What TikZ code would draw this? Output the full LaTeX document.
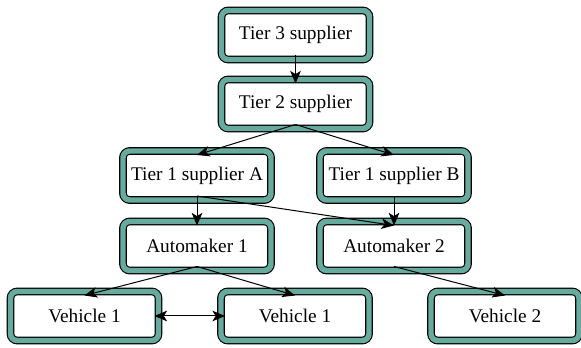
\documentclass[tikz,border=0pt]{standalone}
\usepackage{fontspec}
\setmainfont{Liberation Serif}
\usetikzlibrary{arrows.meta}
\definecolor{tealband}{HTML}{67AB9F}
\begin{document}
\begin{tikzpicture}[x=0.75pt,y=-0.75pt]
\tikzstyle{unit}=[draw=black, line width=0.85pt, double=tealband, double distance=4.1pt,
  fill=white, rounded corners=5pt, minimum width=111pt, minimum height=36.75pt,
  inner sep=0pt, outer sep=-3pt, font=\fontsize{14.5}{17}\selectfont]
\tikzstyle{link}=[draw=black, line width=0.75pt, -{Stealth[length=9.5pt,width=8pt,inset=2.5pt]}]
\useasboundingbox (0,0) rectangle (581,348);
\node [unit] (tier3) at (295.5,35) {Tier 3 supplier};
\node [unit] (tier2) at (295.5,104) {Tier 2 supplier};
\node [unit] (tier1a) at (197,175.5) {Tier 1 supplier A};
\node [unit] (tier1b) at (394,175.5) {Tier 1 supplier B};
\node [unit] (auto1) at (197,246) {Automaker 1};
\node [unit] (auto2) at (394,246) {Automaker 2};
\node [unit] (veh1) at (84.5,316) {Vehicle 1};
\node [unit] (veh1b) at (295,316) {Vehicle 1};
\node [unit] (veh2) at (505,316) {Vehicle 2};
\draw [link] (tier3.south) -- (tier2.north);
\draw [link] (tier2.south) -- (tier1a.north);
\draw [link] (tier2.south) -- (tier1b.north);
\draw [link] (tier1a.south) -- (auto1.north);
\draw [link] (tier1a.south) -- (auto2.north);
\draw [link] (tier1b.south) -- (auto2.north);
\draw [link] (auto1.south) -- (veh1.north);
\draw [link] (auto1.south) -- (veh1b.north);
\draw [link] (auto2.south) -- (veh2.north);
\draw [link, {Stealth[length=9.5pt,width=8pt,inset=2.5pt]}-{Stealth[length=9.5pt,width=8pt,inset=2.5pt]}] (veh1.east) -- (veh1b.west);
\end{tikzpicture}
\end{document}
